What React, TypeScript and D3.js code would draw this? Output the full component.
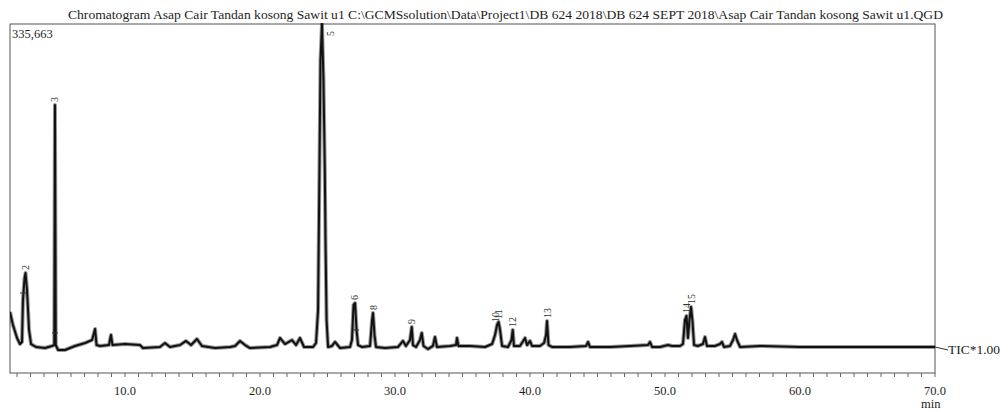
import React from 'react';
import * as d3 from 'd3';

const titleText =
  'Chromatogram Asap Cair Tandan kosong Sawit u1 C:\\GCMSsolution\\Data\\Project1\\DB 624 2018\\DB 624 SEPT 2018\\Asap Cair Tandan kosong Sawit u1.QGD';
const maxIntensityLabel = '335,663';
const traceLabel = 'TIC*1.00';
const xUnit = 'min';

const maxIntensity = 335663;
const timeStart = 1.48;
const timeEnd = 70;

// retention time (min) of each sampled point of the TIC trace
const retentionTimes = [
  1.48, 1.7, 2.0, 2.22, 2.37, 2.44, 2.56, 2.63, 2.74, 2.89, 3.04, 3.41, 4.07, 4.59, 4.76, 4.81, 4.87, 5.04, 5.56,
  6.3, 7.04, 7.56, 7.7, 7.78, 7.89, 8.15, 8.81, 8.96, 9.07, 10.0, 11.11, 11.33, 12.59, 12.96, 13.33, 14.07, 14.52,
  14.89, 15.33, 15.7, 16.67, 17.78, 18.15, 18.52, 18.89, 19.26, 20.74, 21.26, 21.48, 21.85, 22.37, 22.67, 22.96,
  23.26, 23.93, 24.15, 24.3, 24.41, 24.48, 24.59, 24.7, 24.8, 24.85, 24.93, 25.04, 25.33, 25.56, 25.93, 26.67,
  26.81, 26.93, 27.04, 27.15, 27.26, 27.56, 28.15, 28.3, 28.37, 28.48, 28.59, 29.26, 30.22, 30.59, 30.81, 31.11,
  31.24, 31.33, 31.56, 31.85, 31.98, 32.11, 32.44, 32.81, 32.96, 33.11, 34.07, 34.52, 34.59, 34.7, 35.56, 36.67,
  37.19, 37.41, 37.56, 37.67, 37.78, 37.93, 38.37, 38.63, 38.72, 38.81, 39.26, 39.63, 39.78, 40.0, 40.15, 40.74,
  41.04, 41.19, 41.26, 41.37, 41.63, 42.96, 44.15, 44.3, 44.44, 45.93, 47.41, 48.74, 48.89, 49.04, 49.63, 50.22,
  50.52, 51.11, 51.33, 51.48, 51.59, 51.7, 51.81, 51.93, 52.04, 52.15, 52.44, 52.81, 52.96, 53.11, 53.7, 54.07,
  54.22, 54.37, 54.81, 55.04, 55.19, 55.33, 55.56, 57.04, 60.0, 63.7, 67.41, 70.0,
];

// TIC intensity at each retention time above
const intensities = [
  54700, 42000, 29300, 23400, 25400, 66400, 87800, 92700, 76100, 37100, 23400, 20500, 19500, 21500, 22400, 256700,
  22400, 17600, 17600, 21500, 24400, 27300, 34200, 38100, 22400, 21500, 22400, 32200, 22400, 23400, 22400, 19500,
  20500, 24400, 20500, 22400, 26400, 22400, 28300, 21500, 19500, 20500, 21500, 26400, 22400, 19500, 20500, 22400,
  29300, 23400, 27300, 22400, 29300, 20500, 20500, 24400, 56600, 203000, 300600, 335663, 281100, 193200, 124900,
  46800, 20500, 21500, 25400, 19500, 20500, 27300, 61500, 63400, 37100, 22400, 20500, 21500, 46800, 53700, 32200,
  20500, 19500, 20500, 26400, 21500, 27300, 40000, 22400, 20500, 27300, 34200, 21500, 18500, 21500, 30300, 20500,
  21500, 22400, 29300, 21500, 21500, 20500, 23400, 32200, 42000, 44900, 37100, 21500, 20500, 27300, 37100, 21500,
  21500, 29300, 22400, 26400, 21500, 21500, 24400, 32200, 45900, 22400, 20500, 20500, 21500, 25400, 20500, 20500,
  21500, 22400, 25400, 20500, 20500, 22400, 21500, 21500, 23400, 46800, 50800, 29300, 46800, 59500, 44900, 22400,
  21500, 23400, 30300, 21500, 21500, 23400, 25400, 20500, 21500, 27300, 33200, 27300, 20500, 21500, 20500, 20500,
  20500, 20500,
];

// identified peaks
const peakIds = ['2', '3', '5', '6', '8', '9', '10', '11', '12', '13', '14', '15'];
const peakTimes = [2.63, 4.81, 24.59, 27.0, 28.37, 31.24, 37.48, 37.67, 38.72, 41.26, 51.59, 51.93];
const peakTops = [92700, 256700, 335663, 63400, 53700, 40000, 42000, 44900, 37100, 45900, 50800, 59500];

// integration marks (peak start / end flags)
const markTimes = [2.44, 4.81, 27.12];
const markLevels = [73200, 34200, 37100];

const majorTicks = [10, 20, 30, 40, 50, 60, 70];
const minorTicks = d3.range(2, 71, 1);

export default function App() {
  const W = 1008;
  const H = 412;
  const left = 10;
  const right = 935;
  const top = 24;
  const zeroY = 368;
  const axisY = 373;

  const x = d3.scaleLinear().domain([timeStart, timeEnd]).range([left, right]);
  const y = d3.scaleLinear().domain([0, maxIntensity]).range([zeroY, top]);

  const pts: [number, number][] = retentionTimes.map((t, i) => [t, intensities[i]]);
  const line = d3
    .line<[number, number]>()
    .x((d) => x(d[0]))
    .y((d) => y(d[1]))
    .curve(d3.curveLinear);
  const path = line(pts) || '';

  const serif = "'Liberation Serif', 'Times New Roman', serif";
  const ink = '#1e1e1e';

  return (
    <svg
      width={W}
      height={H}
      viewBox={`0 0 ${W} ${H}`}
      style={{ position: 'absolute', left: 0, top: 0, background: '#fff' }}
      fontFamily={serif}
    >
      <defs>
        <clipPath id="plotClip">
          <rect x={left} y={top - 1} width={right - left} height={axisY - top + 1} />
        </clipPath>
      </defs>
      <rect x={0} y={0} width={W} height={H} fill="#fff" />

      {/* title */}
      <text
        x={68}
        y={19}
        fontSize={12.5}
        fill={ink}
        textLength={875}
        lengthAdjust="spacingAndGlyphs"
      >
        {titleText}
      </text>

      {/* frame */}
      <rect x={left} y={top} width={right - left} height={axisY - top} fill="none" stroke="#555" strokeWidth={1} />

      {/* max intensity */}
      <text x={12} y={38} fontSize={12.5} fill={ink}>
        {maxIntensityLabel}
      </text>

      {/* ticks */}
      {minorTicks.map((t) => (
        <line key={'mt' + t} x1={x(t)} x2={x(t)} y1={axisY} y2={axisY + 4} stroke="#666" strokeWidth={1} />
      ))}
      {majorTicks.map((t) => (
        <text key={'lb' + t} x={x(t)} y={395} fontSize={12.5} textAnchor="middle" fill={ink}>
          {d3.format('.1f')(t)}
        </text>
      ))}
      <text x={x(70) - 14} y={408} fontSize={12.5} fill={ink}>
        {xUnit}
      </text>

      {/* trace */}
      <g clipPath="url(#plotClip)">
        <path d={path} fill="none" stroke="#000" strokeOpacity={0.4} strokeWidth={4} strokeLinejoin="round" />
        <path d={path} fill="none" stroke="#111" strokeWidth={2} strokeLinejoin="round" />
        {markTimes.map((t, i) => (
          <line
            key={'mk' + i}
            x1={x(t) - 3}
            x2={x(t) + 3}
            y1={y(markLevels[i])}
            y2={y(markLevels[i])}
            stroke="#333"
            strokeWidth={1}
          />
        ))}
      </g>

      {/* peak labels */}
      {peakIds.map((id, i) => {
        let px = x(peakTimes[i]);
        let py = y(peakTops[i]) - 3;
        if (py < 36) {
          py = 36;
          px += 9;
        }
        return (
          <text
            key={'pk' + id}
            transform={`translate(${px},${py}) rotate(-90)`}
            fontSize={10}
            dy="0.35em"
            fill="#333"
          >
            {id}
          </text>
        );
      })}

      {/* trace name */}
      <line x1={right} y1={y(20500)} x2={right + 13} y2={y(20500) + 3} stroke="#333" strokeWidth={1} />
      <text x={right + 13} y={y(20500) + 7} fontSize={13.5} fill={ink}>
        {traceLabel}
      </text>
    </svg>
  );
}
